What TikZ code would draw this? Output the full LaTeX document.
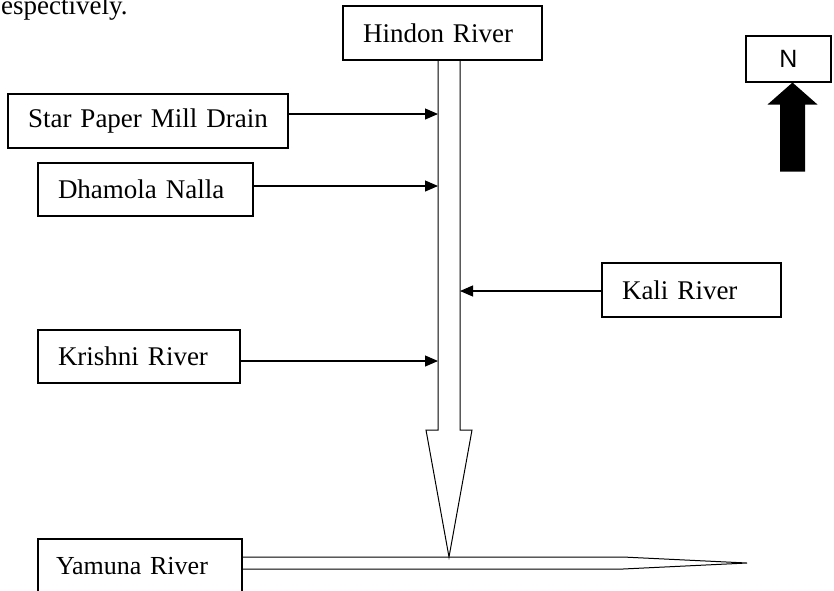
\documentclass[tikz,border=0pt]{standalone}
\usepackage{fontspec}
\setmainfont{Liberation Serif}
\newfontfamily\compassfont{Liberation Sans}
\usetikzlibrary{arrows.meta}

\tikzset{
  srcbox/.style={draw, line width=1.1pt, inner xsep=20pt, inner ysep=0pt,
    minimum height=54pt, align=left, font=\fontsize{27}{32}\selectfont},
  feed/.style={-{Triangle[length=13pt,width=11pt]}, line width=1.1pt},
  bank/.style={line width=1pt, line join=miter},
}

\begin{document}
\begin{tikzpicture}[x=1pt,y=-1pt]
  \clip (0,0) rectangle (834,590);

  % ==========================================================
  %                     PARAMETERS
  % ==========================================================
  \def\bankL{438}      % left bank of the Hindon
  \def\bankR{460}      % right bank of the Hindon
  \def\shoulderY{430}  % where the Hindon widens into its head
  \def\mouthX{449}     % confluence point on the Yamuna
  \def\yamTop{557}     % Yamuna banks
  \def\yamBot{569}
  \def\taperX{623}     % Yamuna starts to narrow here

  % leftover text from the page above
  \node[anchor=base west, inner sep=0pt, font=\fontsize{27}{32}\selectfont]
    (caption) at (1,14) {espectively.};

  % ==========================================================
  %                     SOURCES
  % ==========================================================
  \node[srcbox, text width=159pt] (hindon)  at (442.5,33)  {Hindon River};
  \node[srcbox, text width=240pt] (star)    at (148,121)   {Star Paper Mill Drain};
  \node[srcbox, text width=175pt, minimum height=53pt] (dhamola) at (145.5,189.5) {Dhamola Nalla};
  \node[srcbox, text width=139pt] (kali)    at (691.5,290) {Kali River};
  \node[srcbox, text width=162pt, minimum height=53pt] (krishni) at (139,356.5) {Krishni River};
  \node[srcbox, text width=168pt, inner xsep=18pt, font=\fontsize{26}{30}\selectfont]
    (yamuna) at (140,566) {Yamuna River};

  % ==========================================================
  %                     HINDON (main stem)
  % ==========================================================
  \draw[bank] (\bankL,0 |- hindon.south) -- (\bankL,\shoulderY) -- (426,\shoulderY)
    -- (\mouthX,\yamTop) -- (472,\shoulderY) -- (\bankR,\shoulderY)
    -- (\bankR,0 |- hindon.south);

  % inflow points on the banks
  \coordinate (inStar)    at (\bankL,114);
  \coordinate (inDhamola) at (\bankL,186);
  \coordinate (inKrishni) at (\bankL,361);
  \coordinate (inKali)    at (\bankR,291);

  \draw[feed] (star.east |- inStar) -- (inStar);
  \draw[feed] (dhamola.east |- inDhamola) -- (inDhamola);
  \draw[feed] (krishni.east |- inKrishni) -- (inKrishni);
  \draw[feed] (kali.west |- inKali) -- (inKali);

  % ==========================================================
  %                     YAMUNA
  % ==========================================================
  \coordinate (yTop) at (\taperX,\yamTop);
  \coordinate (yBot) at (\taperX,\yamBot);
  \coordinate (yEnd) at (747,563);
  \draw[bank] (yamuna.east |- yTop) -- (yTop) -- (yEnd) -- (yBot)
    -- (yamuna.east |- yBot);

  % ==========================================================
  %                     NORTH SIGN
  % ==========================================================
  \node[draw, line width=1.1pt, minimum width=85pt, minimum height=46pt,
    font=\compassfont\fontsize{25}{30}\selectfont] (north) at (788.5,59) {N};
  \coordinate (nTip) at ([xshift=4pt]north.south);
  \fill (nTip) -- ++(-25,22) -- ++(12.5,0) -- ++(0,67) -- ++(25,0)
    -- ++(0,-67) -- ++(12.5,0) -- cycle;
\end{tikzpicture}
\end{document}
